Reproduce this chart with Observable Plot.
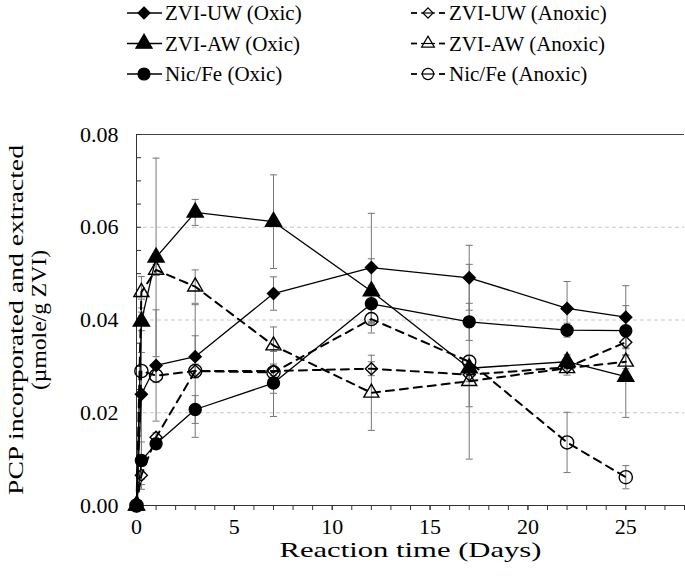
<!DOCTYPE html>
<html><head><meta charset="utf-8">
<script src="https://cdn.jsdelivr.net/npm/d3@7"></script>
<script src="https://cdn.jsdelivr.net/npm/@observablehq/plot@0.6"></script>
<style>
body{margin:0;background:#fff;}
#chart{width:685px;height:579px;overflow:hidden;font-family:"Liberation Serif","Times New Roman",serif;}
#chart svg{display:block;}
</style></head><body><div id="chart"></div>
<script>
// ---- data ----
const days = [0, 0.25, 1, 3, 7, 12, 17, 22, 25];
const seriesNames = ["ZVI-UW (Oxic)", "ZVI-AW (Oxic)", "Nic/Fe (Oxic)", "ZVI-UW (Anoxic)", "ZVI-AW (Anoxic)", "Nic/Fe (Anoxic)"];
const zviUwOxic   = [0, 0.0240, 0.0302, 0.0321, 0.0457, 0.0513, 0.0491, 0.0425, 0.0406];
const zviUwOxicSd = [0, 0.0205, 0.0120, 0.0045, 0.0036, 0.0117, 0.0070, 0.0058, 0.0068];
const zviAwOxic   = [0, 0.0397, 0.0535, 0.0632, 0.0612, 0.0462, 0.0296, 0.0310, 0.0278];
const zviAwOxicSd = [0, 0.0020, 0.0214, 0.0028, 0.0101, 0.0070, 0.0028, 0.0015, 0.0088];
const nicOxic     = [0, 0.0097, 0.0133, 0.0207, 0.0264, 0.0435, 0.0396, 0.0378, 0.0377];
const nicOxicSd   = [0, 0.0040, 0.0010, 0.0030, 0.0072, 0.0040, 0.0040, 0.0015, 0.0054];
const zviUwAnox   = [0, 0.0065, 0.0147, 0.0290, 0.0290, 0.0295, 0.0282, 0.0298, 0.0352];
const zviUwAnoxSd = [0, 0.0020, 0.0010, 0.0015, 0.0010, 0.0015, 0.0015, 0.0010, 0.0012];
const zviAwAnox   = [0, 0.0460, 0.0508, 0.0472, 0.0345, 0.0243, 0.0268, 0.0296, 0.0310];
const zviAwAnoxSd = [0, 0.0034, 0.0012, 0.0036, 0.0040, 0.0081, 0.0055, 0.0015, 0.0015];
const nicAnox     = [0, 0.0290, 0.0280, 0.0290, 0.0287, 0.0402, 0.0310, 0.0136, 0.0061];
const nicAnoxSd   = [0, 0.0040, 0.0015, 0.0143, 0.0045, 0.0030, 0.0210, 0.0065, 0.0025];
const xMajorTicks = [0, 5, 10, 15, 20, 25];
const yMajorTicks = [0, 0.02, 0.04, 0.06, 0.08];
const gridTicks = [0.02, 0.04, 0.06];
const xTitle = "Reaction time (Days)";
const yTitle1 = "PCP incorporated and extracted";
const yTitle2 = "(µmole/g ZVI)";

const FONT = "'Liberation Serif', 'Times New Roman', serif";

// ---- build table ----
const values = [zviUwOxic, zviAwOxic, nicOxic, zviUwAnox, zviAwAnox, nicAnox];
const sds = [zviUwOxicSd, zviAwOxicSd, nicOxicSd, zviUwAnoxSd, zviAwAnoxSd, nicAnoxSd];
const symbols = ["diamond2", "triangle", "circle", "diamond2", "triangle", "circle"];
const radii = [5.4, 6, 6, 5.4, 5.6, 6.6];
const rows = [];
seriesNames.forEach((s, i) => days.forEach((d, j) => rows.push({
  series: s, day: d, value: values[i][j], sd: sds[i][j],
  lo: values[i][j] - sds[i][j], hi: values[i][j] + sds[i][j],
  oxic: i < 3, idx: i
})));
const errRows = rows.filter(r => r.sd > 0);
const capSymbol = {draw(ctx, size){ const w = Math.sqrt(size); ctx.moveTo(-w, 0); ctx.lineTo(w, 0); }};
const xMinor = d3.range(0, 29, 1);
const yMinor = d3.range(0, 0.0801, 0.005);

// ---- legend ----
const legend = d3.create("svg").attr("width", 685).attr("height", 95);
const legItems = seriesNames.map((s, i) => ({s, i, col: i < 3 ? 0 : 1, row: i % 3}));
legItems.forEach(it => {
  const x0 = it.col === 0 ? 127 : 411;
  const y = 13 + it.row * 30.5;
  const g = legend.append("g");
  if (it.col === 0) {
    g.append("line").attr("x1", x0).attr("x2", x0 + 35).attr("y1", y).attr("y2", y).attr("stroke", "#000").attr("stroke-width", 1.5);
  } else {
    g.append("line").attr("x1", x0).attr("x2", x0 + 6).attr("y1", y).attr("y2", y).attr("stroke", "#000").attr("stroke-width", 1.8);
    g.append("line").attr("x1", x0 + 28).attr("x2", x0 + 34).attr("y1", y).attr("y2", y).attr("stroke", "#000").attr("stroke-width", 1.8);
    g.append("line").attr("x1", x0 + 10).attr("x2", x0 + 24).attr("y1", y).attr("y2", y).attr("stroke", "#000").attr("stroke-width", 1.2);
  }
  const symMap = {diamond2: d3.symbolDiamond2, triangle: d3.symbolTriangle, circle: d3.symbolCircle};
  const r = it.col === 0 ? radii[it.i] : radii[it.i] * 0.85;
  g.append("path").attr("transform", `translate(${x0 + 17},${y})`)
    .attr("d", d3.symbol(symMap[symbols[it.i]], Math.PI * r * r)())
    .attr("fill", it.col === 0 ? "#000" : "none").attr("stroke", "#000").attr("stroke-width", 1.2);
  g.append("text").attr("x", x0 + 38).attr("y", y).attr("dy", "0.35em")
    .style("font-family", FONT).attr("font-size", 21).text(it.s);
});
document.getElementById("chart").append(legend.node());

// ---- chart ----
const plot = Plot.plot({
  width: 685, height: 484,
  marginLeft: 136, marginRight: 1, marginTop: 39, marginBottom: 74,
  style: {fontFamily: FONT, fontSize: "22px", color: "#000", background: "#fff"},
  x: {domain: [0, 28], label: null},
  y: {domain: [0, 0.08], label: null},
  marks: [
    Plot.ruleY(gridTicks, {stroke: "#c8c8c8", strokeDasharray: "4,3", strokeWidth: 1}),
    Plot.ruleY([0.08], {stroke: "#444", strokeWidth: 1}),
    Plot.axisX({ticks: xMinor, tickSize: 5, tickFormat: () => "", stroke: "#333", label: null}),
    Plot.axisX({ticks: xMajorTicks, tickSize: 5, tickPadding: 8, tickFormat: d3.format("d"), fontSize: 22, label: null, stroke: "#333"}),
    Plot.axisY({ticks: yMinor, tickSize: 5, dx: 5, tickFormat: () => "", stroke: "#333", label: null}),
    Plot.axisY({ticks: yMajorTicks, tickSize: 0, tickPadding: 18, tickFormat: d3.format(".2f"), fontSize: 22, label: null}),
    Plot.ruleX([0], {stroke: "#333", strokeWidth: 1}),
    Plot.ruleY([0], {stroke: "#333", strokeWidth: 1}),
    // error bars
    Plot.ruleX(errRows, {x: "day", y1: "lo", y2: "hi", stroke: "#777", strokeWidth: 1}),
    Plot.dot(errRows, {x: "day", y: "lo", symbol: capSymbol, r: 2, fill: "none", stroke: "#777", strokeWidth: 1}),
    Plot.dot(errRows, {x: "day", y: "hi", symbol: capSymbol, r: 2, fill: "none", stroke: "#777", strokeWidth: 1}),
    // lines
    Plot.line(rows.filter(r => r.oxic), {x: "day", y: "value", z: "series", stroke: "#000", strokeWidth: 1.3}),
    Plot.line(rows.filter(r => !r.oxic), {x: "day", y: "value", z: "series", stroke: "#000", strokeWidth: 2, strokeDasharray: "8,6"}),
    // markers
    ...seriesNames.map((s, i) => Plot.dot(rows.filter(r => r.idx === i), {
      x: "day", y: "value", symbol: symbols[i], r: radii[i],
      fill: i < 3 ? "#000" : "none", stroke: "#000", strokeWidth: 1.4
    })),
    // axis titles
    Plot.text([yTitle1], {frameAnchor: "left", rotate: -90, dx: -120, textAnchor: "middle", lineAnchor: "middle", fontSize: 21}),
    Plot.text([yTitle2], {frameAnchor: "left", rotate: -90, dx: -97, textAnchor: "middle", lineAnchor: "middle", fontSize: 21}),
    Plot.text([xTitle], {frameAnchor: "bottom", dy: 45, textAnchor: "middle", lineAnchor: "middle", fontSize: 21})
  ]
});
// widen the axis titles along their baselines to match the reference's wide lettering
plot.querySelectorAll("text").forEach(t => {
  const s = t.textContent;
  const len = s === yTitle1 ? 350 : s === yTitle2 ? 140 : s === xTitle ? 262 : null;
  if (len) { t.setAttribute("textLength", len); t.setAttribute("lengthAdjust", "spacingAndGlyphs"); }
});
document.getElementById("chart").append(plot);
</script></body></html>
